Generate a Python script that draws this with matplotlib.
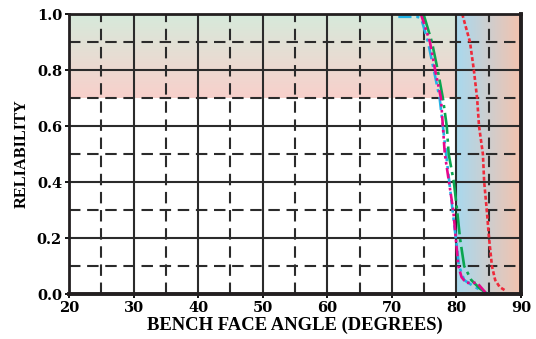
import numpy as np
import matplotlib
matplotlib.use('Agg')
import matplotlib.pyplot as plt
from matplotlib.colors import LinearSegmentedColormap
from matplotlib.ticker import MultipleLocator

# reliability curves
cyan_x = [71.0, 74.0, 74.6, 75.6, 76.5, 77.4, 77.9, 78.4, 78.9, 79.4, 79.9, 80.4, 81.2, 82.5, 84.4, 85.2, 87.0]
cyan_y = [0.99, 0.99, 0.98, 0.90, 0.80, 0.70, 0.60, 0.50, 0.40, 0.30, 0.20, 0.10, 0.05, 0.03, 0.005, 0.0, 0.0]

magenta_x = [74.5, 75.9, 76.7, 77.6, 77.9, 78.2, 78.85, 79.5, 79.9, 80.3, 80.8, 81.5, 83.2, 84.7]
magenta_y = [1.0, 0.90, 0.80, 0.70, 0.60, 0.50, 0.40, 0.30, 0.20, 0.10, 0.06, 0.04, 0.04, 0.0]

green_x = [74.9, 76.2, 77.1, 77.9, 78.5, 78.8, 79.6, 80.1, 80.55, 81.2, 82.3, 83.6, 84.8]
green_y = [1.0, 0.90, 0.80, 0.70, 0.60, 0.50, 0.40, 0.30, 0.20, 0.10, 0.05, 0.02, 0.0]

red_x = [80.9, 82.1, 82.7, 83.2, 83.5, 84.1, 84.3, 84.7, 85.05, 85.5, 86.0, 86.7, 87.6]
red_y = [1.0, 0.90, 0.80, 0.70, 0.60, 0.50, 0.40, 0.30, 0.20, 0.10, 0.05, 0.025, 0.012]

x_ticks = [20, 30, 40, 50, 60, 70, 80, 90]
y_ticks = [0.0, 0.2, 0.4, 0.6, 0.8, 1.0]

plt.rcParams['font.family'] = 'Liberation Serif'
plt.rcParams['font.weight'] = 'bold'

fig = plt.figure(figsize=(5.36, 3.39), dpi=100)
ax = fig.add_axes([0.1287, 0.1327, 0.8433, 0.826])

# shaded zones
top_cmap = LinearSegmentedColormap.from_list('top', ['#f8d0cb', '#d6eadb'])
ax.imshow(np.linspace(0, 1, 100).reshape(-1, 1), cmap=top_cmap, origin='lower',
          extent=[20, 80, 0.7, 1.0], aspect='auto', zorder=0)
right_cmap = LinearSegmentedColormap.from_list('right', ['#a9d9ee', '#f3c3af'])
ax.imshow(np.linspace(0, 1, 100).reshape(1, -1), cmap=right_cmap, origin='lower',
          extent=[80, 90, 0.0, 1.0], aspect='auto', zorder=0)

ax.plot(cyan_x, cyan_y, color='#22b3e6', lw=1.9, ls=(0, (5, 1.8, 1.2, 1.8)), zorder=3)
ax.plot(magenta_x, magenta_y, color='#e5088c', lw=1.9, ls=(0, (4, 1.3, 1, 1.3, 1, 1.3)), zorder=4)
ax.plot(green_x, green_y, color='#0aa550', lw=1.9, ls=(0, (8, 1.8, 1.2, 1.8)), zorder=3)
ax.plot(red_x, red_y, color='#ee2a3a', lw=1.9, ls=(0, (1.5, 0.9)), zorder=3)

ax.set_xlim(20, 90)
ax.set_ylim(0, 1.0)
ax.set_xticks(x_ticks)
ax.set_yticks(y_ticks)
ax.set_yticklabels(['%.1f' % v for v in y_ticks])
ax.xaxis.set_minor_locator(MultipleLocator(5))
ax.yaxis.set_minor_locator(MultipleLocator(0.1))

ax.grid(which='major', color='#2b2b2b', lw=1.5, ls='-', zorder=1)
ax.grid(which='minor', color='#2b2b2b', lw=1.5, ls=(0, (5.5, 3.2)), zorder=1)
ax.tick_params(which='major', direction='out', length=3, width=1.3, pad=2)
ax.tick_params(which='minor', length=0)
for lab in ax.get_xticklabels() + ax.get_yticklabels():
    lab.set_fontfamily('DejaVu Serif')
    lab.set_fontsize(10.5)
    lab.set_fontweight('bold')

for side, w in [('left', 2.0), ('bottom', 2.8), ('right', 2.8), ('top', 2.0)]:
    ax.spines[side].set_linewidth(w)
    ax.spines[side].set_color('#231f20')
    ax.spines[side].set_zorder(5)

ax.set_xlabel('BENCH FACE ANGLE (DEGREES)', fontsize=13.4, fontweight='bold', labelpad=1)
ax.set_ylabel('RELIABILITY', fontsize=11.8, fontweight='bold', labelpad=5)

fig.savefig('out.png', dpi=100)
